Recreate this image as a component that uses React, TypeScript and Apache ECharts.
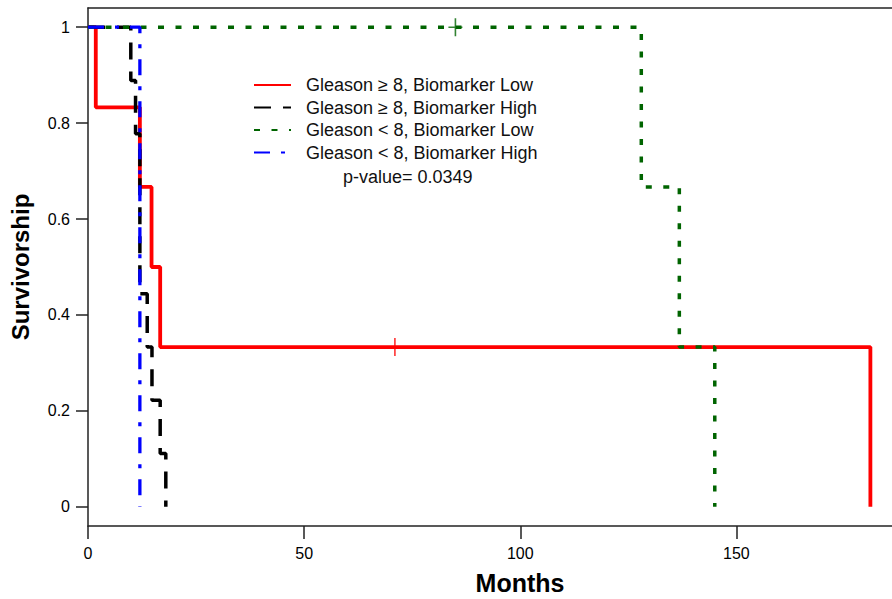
import React, { useEffect, useRef } from 'react';
import * as echarts from 'echarts';

const seriesNames = [
  'Gleason ≥ 8, Biomarker Low',
  'Gleason ≥ 8, Biomarker High',
  'Gleason < 8, Biomarker Low',
  'Gleason < 8, Biomarker High',
];
const seriesColors = ['#ff0000', '#000000', '#006400', '#0000ff'];

// Kaplan-Meier step points (months, survival)
const redMonths = [0, 1.8, 12.0, 14.7, 16.7, 181];
const redSurv = [1, 0.833, 0.667, 0.5, 0.333, 0];
const blackMonths = [0, 9.9, 11.0, 12.0, 13.7, 14.8, 16.7, 18.0];
const blackSurv = [1, 0.889, 0.778, 0.444, 0.333, 0.222, 0.111, 0];
const greenMonths = [0, 128, 136.8, 145];
const greenSurv = [1, 0.667, 0.333, 0];
const blueMonths = [0, 12.0];
const blueSurv = [1, 0];

// censored observations
const redCensorMonths = [71];
const redCensorSurv = [0.333];
const greenCensorMonths = [85];
const greenCensorSurv = [1];

const xTicks = [0, 50, 100, 150];
const yTicks = [0, 0.2, 0.4, 0.6, 0.8, 1];
const pValueText = 'p-value= 0.0349';

const FONT = "'Liberation Sans', Arial, sans-serif";
const CROSS = 'path://M-0.8,-9H0.8V-0.8H7V0.8H0.8V9H-0.8V0.8H-7V-0.8H-0.8Z';

const zip = (xs: number[], ys: number[]) => xs.map((x, i) => [x, ys[i]]);

export default function App() {
  const ref = useRef<HTMLDivElement>(null);
  useEffect(() => {
    if (!ref.current) return;
    const chart = echarts.init(ref.current, undefined, { renderer: 'svg' });
    const lineSeries = (i: number, xs: number[], ys: number[], type: any, width: number) => ({
      name: seriesNames[i],
      type: 'line',
      step: 'end',
      symbol: 'none',
      showSymbol: false,
      legendIcon: 'none',
      data: zip(xs, ys),
      color: seriesColors[i],
      lineStyle: { color: seriesColors[i], width, type },
      z: 2 + i,
    });
    const axisLineStyle = { color: '#222', width: 1.5 };
    chart.setOption({
      animation: false,
      backgroundColor: '#ffffff',
      grid: {
        left: 88,
        top: 8,
        right: 0,
        bottom: 73,
        containLabel: false,
        outerBoundsMode: 'none',
      },
      legend: {
        data: seriesNames,
        orient: 'vertical',
        left: 248,
        top: 71,
        itemWidth: 37,
        itemHeight: 14,
        itemGap: 4.5,
        itemStyle: { opacity: 0 },
        textStyle: {
          fontFamily: FONT,
          fontSize: 18,
          color: '#111',
          lineHeight: 18,
          padding: [0, 0, 0, 10],
        },
      },
      graphic: [
        {
          type: 'text',
          left: 343,
          top: 168,
          style: { text: pValueText, fontFamily: FONT, fontSize: 18, fill: '#111' },
        },
      ],
      xAxis: [
        {
          type: 'value',
          min: 0,
          max: 186,
          position: 'bottom',
          name: 'Months',
          nameLocation: 'middle',
          nameGap: 44,
          nameTextStyle: {
            fontFamily: FONT,
            fontSize: 25,
            fontWeight: 'bold',
            color: '#000',
            padding: [0, 0, 0, 60],
          },
          axisLine: { show: true, onZero: false, lineStyle: axisLineStyle },
          axisTick: { show: true, length: 13, lineStyle: axisLineStyle, customValues: xTicks },
          axisLabel: {
            customValues: xTicks,
            margin: 19,
            fontFamily: FONT,
            fontSize: 16,
            color: '#000',
          },
          splitLine: { show: false },
        },
        {
          type: 'value',
          min: 0,
          max: 186,
          position: 'top',
          axisLine: { show: true, onZero: false, lineStyle: axisLineStyle },
          axisTick: { show: false },
          axisLabel: { show: false },
          splitLine: { show: false },
        },
      ],
      yAxis: {
        type: 'value',
        min: -0.04,
        max: 1.04,
        name: 'Survivorship',
        nameLocation: 'middle',
        nameGap: 56,
        nameTextStyle: {
          fontFamily: FONT,
          fontSize: 24,
          fontWeight: 'bold',
          color: '#000',
        },
        axisLine: { show: true, onZero: false, lineStyle: axisLineStyle },
        axisTick: { show: true, length: 12, lineStyle: axisLineStyle, customValues: yTicks },
        axisLabel: {
          customValues: yTicks,
          margin: 18,
          fontFamily: FONT,
          fontSize: 16,
          color: '#000',
        },
        splitLine: { show: false },
      },
      series: [
        lineSeries(0, redMonths, redSurv, 'solid', 3.8),
        lineSeries(1, blackMonths, blackSurv, [17, 12], 3.5),
        lineSeries(2, greenMonths, greenSurv, [6, 11.5], 3.5),
        lineSeries(3, blueMonths, blueSurv, [16, 11, 4, 11], 3.3),
        {
          name: 'censor-red',
          type: 'scatter',
          data: zip(redCensorMonths, redCensorSurv),
          symbol: CROSS,
          symbolSize: [14, 18],
          itemStyle: { color: seriesColors[0] },
          z: 10,
        },
        {
          name: 'censor-green',
          type: 'scatter',
          data: zip(greenCensorMonths, greenCensorSurv),
          symbol: CROSS,
          symbolSize: [14, 18],
          itemStyle: { color: seriesColors[2] },
          z: 10,
        },
      ],
    });
    return () => chart.dispose();
  }, []);
  return (
    <div
      ref={ref}
      style={{ position: 'absolute', left: 0, top: 0, width: 892, height: 599, background: '#fff' }}
    />
  );
}
